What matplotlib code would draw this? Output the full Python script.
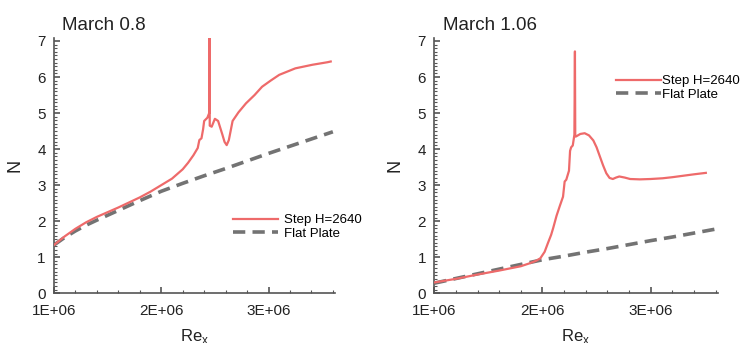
import numpy as np
import matplotlib.pyplot as plt
from matplotlib.ticker import MultipleLocator, FuncFormatter

# Re_x in millions, N values
step_08_re = [1.00, 1.10, 1.20, 1.30, 1.40, 1.50, 1.60, 1.70, 1.80, 1.90, 2.00, 2.10,
              2.20, 2.25, 2.30, 2.34, 2.355, 2.375, 2.39, 2.40, 2.43, 2.447, 2.449,
              2.452, 2.47, 2.50, 2.53, 2.57, 2.59, 2.61, 2.63, 2.665, 2.72, 2.79,
              2.87, 2.94, 3.02, 3.10, 3.25, 3.41, 3.55, 3.58]
step_08_n = [1.34, 1.58, 1.79, 1.97, 2.12, 2.25, 2.38, 2.52, 2.66, 2.82, 3.00, 3.18,
             3.44, 3.62, 3.83, 4.03, 4.25, 4.30, 4.55, 4.78, 4.87, 5.00, 7.14,
             4.65, 4.62, 4.84, 4.78, 4.40, 4.20, 4.11, 4.25, 4.78, 5.02, 5.27,
             5.50, 5.73, 5.90, 6.06, 6.24, 6.34, 6.41, 6.43]
flat_08_re = [1.0, 1.1, 1.2, 1.3, 1.4, 1.6, 1.8, 2.0, 2.2, 2.4, 2.6, 2.8, 3.0, 3.2, 3.4, 3.6]
flat_08_n = [1.34, 1.55, 1.73, 1.89, 2.03, 2.30, 2.57, 2.83, 3.05, 3.26, 3.46, 3.67,
             3.88, 4.08, 4.28, 4.48]

step_106_re = [1.00, 1.20, 1.40, 1.60, 1.80, 1.88, 1.94, 1.98, 2.02, 2.05, 2.08, 2.10,
               2.13, 2.16, 2.19, 2.205, 2.22, 2.245, 2.255, 2.265, 2.28, 2.295, 2.300,
               2.303, 2.31, 2.35, 2.39, 2.43, 2.47, 2.50, 2.53, 2.56, 2.59, 2.62,
               2.65, 2.68, 2.71, 2.76, 2.81, 2.90, 3.00, 3.11, 3.20, 3.30, 3.40, 3.51]
step_106_n = [0.30, 0.40, 0.52, 0.63, 0.75, 0.83, 0.90, 0.97, 1.15, 1.39, 1.62, 1.82,
              2.15, 2.42, 2.68, 3.10, 3.15, 3.40, 3.95, 4.05, 4.10, 4.40, 6.71,
              4.35, 4.35, 4.42, 4.44, 4.38, 4.24, 4.05, 3.80, 3.55, 3.33, 3.20,
              3.17, 3.21, 3.24, 3.21, 3.17, 3.16, 3.17, 3.19, 3.22, 3.26, 3.30, 3.34]
flat_106_re = [1.0, 1.2, 1.4, 1.6, 1.8, 2.0, 2.2, 2.4, 2.6, 2.8, 3.0, 3.2, 3.4, 3.6]
flat_106_n = [0.28, 0.41, 0.54, 0.67, 0.80, 0.93, 1.03, 1.14, 1.24, 1.35, 1.46, 1.56,
              1.67, 1.78]

RED = '#ee6a6a'
GREY = '#737373'
SPINE = '#555555'
TXT = '#222222'


def draw(ax, title, step_re, step_n, flat_re, flat_n, leg_anchor, text_gap):
  ax.plot(np.array(step_re) * 1e6, step_n, color=RED, lw=1.6, label='Step H=2640', zorder=3)
  ax.plot(np.array(flat_re) * 1e6, flat_n, color=GREY, lw=2.6, dashes=(3.4, 2.0),
          label='Flat Plate', zorder=2)
  ax.set_xlim(1.0e6, 3.62e6)
  ax.set_ylim(0, 7.08)
  for side in ['top', 'right']:
    ax.spines[side].set_visible(False)
  for side in ['left', 'bottom']:
    ax.spines[side].set_color(SPINE)
    ax.spines[side].set_linewidth(1.2)
  ax.xaxis.set_major_locator(MultipleLocator(1e6))
  ax.xaxis.set_minor_locator(MultipleLocator(2e5))
  ax.yaxis.set_major_locator(MultipleLocator(1))
  ax.yaxis.set_minor_locator(MultipleLocator(0.1))
  ax.xaxis.set_major_formatter(FuncFormatter(lambda v, p: f'{v:.0E}'))
  ax.tick_params(which='both', direction='in', color=SPINE, labelcolor=TXT, labelsize=11)
  ax.tick_params(which='major', length=4, width=1.2)
  ax.tick_params(which='minor', length=2.5, width=0.8)
  ax.tick_params(axis='x', which='major', pad=8)
  ax.tick_params(axis='y', which='major', pad=6)
  ax.set_xlabel('Re$_\\mathregular{x}$', fontsize=12, color=TXT, labelpad=6)
  ax.set_ylabel('N', fontsize=13, color=TXT, labelpad=10)
  ax.set_title(title, loc='left', fontsize=13.5, color=TXT, x=0.03, pad=6)
  ax.legend(loc='upper left', bbox_to_anchor=leg_anchor, frameon=False, fontsize=9.5,
            handlelength=3.4, handletextpad=text_gap, labelspacing=0.1, borderaxespad=0,
            borderpad=0)


plt.rcParams['font.family'] = ['Liberation Sans', 'DejaVu Sans']
fig = plt.figure(figsize=(7.42, 3.43), dpi=100)
ax1 = fig.add_axes([0.0728, 0.145, 0.3787, 0.744])
ax2 = fig.add_axes([0.5853, 0.145, 0.382, 0.744])

draw(ax1, 'March 0.8', step_08_re, step_08_n, flat_08_re, flat_08_n, (0.637, 0.31), 0.5)
draw(ax2, 'March 1.06', step_106_re, step_106_n, flat_106_re, flat_106_n, (0.641, 0.855), 0.1)

fig.savefig('out.png', dpi=100)
